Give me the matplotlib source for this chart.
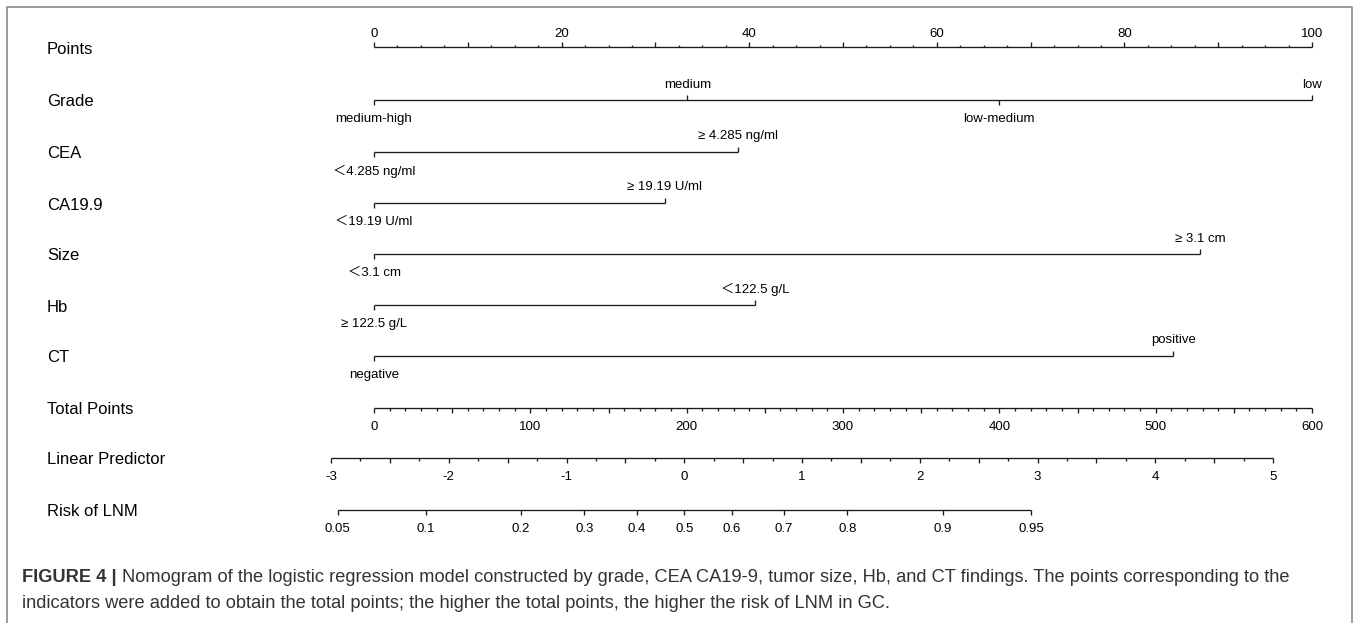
import numpy as np
import matplotlib
matplotlib.use('Agg')
import matplotlib.pyplot as plt

plt.rcParams['font.family'] = ['Liberation Sans', 'Noto Sans CJK SC', 'DejaVu Sans']

# ---------------- data ----------------
row_names = ['Points', 'Grade', 'CEA', 'CA19.9', 'Size', 'Hb', 'CT',
             'Total Points', 'Linear Predictor', 'Risk of LNM']

points_labels = [0, 20, 40, 60, 80, 100]
points_major = [0, 10, 20, 30, 40, 50, 60, 70, 80, 90, 100]
points_minor = [2.5, 5, 7.5, 12.5, 15, 17.5, 22.5, 25, 27.5, 32.5, 35, 37.5,
                42.5, 45, 47.5, 52.5, 55, 57.5, 62.5, 65, 67.5, 72.5, 75, 77.5,
                82.5, 85, 87.5, 92.5, 95, 97.5]

grade_levels = ['medium-high', 'medium', 'low-medium', 'low']
grade_points = [0, 33.4, 66.6, 100]
grade_sides = ['below', 'above', 'below', 'above']

cea_levels = ['＜4.285 ng/ml', '≥ 4.285 ng/ml']
cea_points = [0, 38.8]
ca199_levels = ['＜19.19 U/ml', '≥ 19.19 U/ml']
ca199_points = [0, 31.0]
size_levels = ['＜3.1 cm', '≥ 3.1 cm']
size_points = [0, 88.1]
hb_levels = ['≥ 122.5 g/L', '＜122.5 g/L']
hb_points = [0, 40.6]
ct_levels = ['negative', 'positive']
ct_points = [0, 85.2]

total_labels = [0, 100, 200, 300, 400, 500, 600]
total_major = [0, 50, 100, 150, 200, 250, 300, 350, 400, 450, 500, 550, 600]
total_minor = [v for v in range(0, 601, 10) if v % 50 != 0]
total_max = 600.0          # total points 600 == 100 points on the top scale

lp_labels = [-3, -2, -1, 0, 1, 2, 3, 4, 5]
lp_major = [-3, -2.5, -2, -1.5, -1, -0.5, 0, 0.5, 1, 1.5, 2, 2.5, 3, 3.5, 4, 4.5, 5]
lp_minor = [-2.75, -2.25, -1.75, -1.25, -0.75, -0.25, 0.25, 0.75, 1.25, 1.75,
            2.25, 2.75, 3.25, 3.75, 4.25, 4.75]
lp_at_total0 = -2.635      # linear predictor at total points = 0
lp_per_total = 0.013277    # linear predictor per total point

risk_labels = [0.05, 0.1, 0.2, 0.3, 0.4, 0.5, 0.6, 0.7, 0.8, 0.9, 0.95]
risk_texts = ['0.05', '0.1', '0.2', '0.3', '0.4', '0.5', '0.6', '0.7', '0.8', '0.9', '0.95']

caption_bold = 'FIGURE 4 | '
caption_line1 = ('Nomogram of the logistic regression model constructed by grade, CEA CA19-9, '
                 'tumor size, Hb, and CT findings. The points corresponding to the')
caption_line2 = ('indicators were added to obtain the total points; the higher the total points, '
                 'the higher the risk of LNM in GC.')

# ---------------- layout ----------------
W, H = 1357, 623
fig = plt.figure(figsize=(W / 100, H / 100), dpi=100)
fig.patch.set_facecolor('white')

# pixel-space overlay (frame, row names, caption)
axp = fig.add_axes([0, 0, 1, 1])
axp.set_xlim(0, W)
axp.set_ylim(H, 0)
axp.axis('off')

# nomogram axes: x in "Points" units
px0, px100 = 374.0, 1312.0
ppu = (px100 - px0) / 100.0
ax = fig.add_axes([0, 0, 1, 1])
ax.set_xlim(-px0 / ppu, (W - px0) / ppu)
ax.set_ylim(H, 0)
ax.axis('off')
ax.patch.set_alpha(0)

row_y = [47, 100, 152, 203, 254, 305, 356, 408, 458, 510]

LC = '#1a1a1a'
LW = 0.95
MAJ = 5.0
MIN = 2.5
TICK_FS = 9.5
NAME_FS = 12

def total_to_pts(t):
    return np.asarray(t, dtype=float) / total_max * 100.0

def lp_to_pts(lp):
    return total_to_pts((np.asarray(lp, dtype=float) - lp_at_total0) / lp_per_total)

def risk_to_pts(p):
    p = np.asarray(p, dtype=float)
    return lp_to_pts(np.log(p / (1 - p)))

def tick(x, y, length, side):
    d = -length if side == 'above' else length
    ax.plot([x, x], [y, y + d], color=LC, lw=LW, solid_capstyle='butt')

def label(x, y, text, side, up_off=7):
    if side == 'above':
        ax.text(x, y - up_off, text, ha='center', va='bottom', fontsize=TICK_FS, color='black')
    else:
        ax.text(x, y + 13, text, ha='center', va='top', fontsize=TICK_FS, color='black')

def scale_axis(y, major, minor, lab_vals, lab_texts, side):
    major = np.asarray(major, float)
    ax.plot([major.min(), major.max()], [y, y], color=LC, lw=LW, solid_capstyle='butt')
    for x in major:
        tick(x, y, MAJ, side)
    for x in minor:
        tick(x, y, MIN, side)
    for x, t in zip(lab_vals, lab_texts):
        label(x, y, t, side, up_off=7)

def factor_axis(y, pts, texts, sides):
    ax.plot([min(pts), max(pts)], [y, y], color=LC, lw=LW, solid_capstyle='butt')
    for x, t, s in zip(pts, texts, sides):
        tick(x, y, MAJ, s)
        label(x, y, t, s, up_off=9.5)

# Points
scale_axis(row_y[0], points_major, points_minor, points_labels,
           [str(v) for v in points_labels], 'above')
# factors
factor_axis(row_y[1], grade_points, grade_levels, grade_sides)
factor_axis(row_y[2], cea_points, cea_levels, ['below', 'above'])
factor_axis(row_y[3], ca199_points, ca199_levels, ['below', 'above'])
factor_axis(row_y[4], size_points, size_levels, ['below', 'above'])
factor_axis(row_y[5], hb_points, hb_levels, ['below', 'above'])
factor_axis(row_y[6], ct_points, ct_levels, ['below', 'above'])
# Total points
scale_axis(row_y[7], total_to_pts(total_major), total_to_pts(total_minor),
           total_to_pts(total_labels), [str(v) for v in total_labels], 'below')
# Linear predictor
scale_axis(row_y[8], lp_to_pts(lp_major), lp_to_pts(lp_minor),
           lp_to_pts(lp_labels), [str(v) for v in lp_labels], 'below')
# Risk
scale_axis(row_y[9], risk_to_pts(risk_labels), [], risk_to_pts(risk_labels),
           risk_texts, 'below')

# row names
for name, y in zip(row_names, row_y):
    axp.text(47, y + 2, name, ha='left', va='center', fontsize=NAME_FS, color='black')

# frame (left, top, right)
axp.plot([7, 7, 1352, 1352], [H + 5, 7, 7, H + 5], color='#8a8a8a', lw=1.2,
         clip_on=False)

# caption
CAP_FS = 13.15
CAP_C = '#333333'
t1 = axp.text(22, 582, caption_bold, ha='left', va='baseline', fontsize=CAP_FS,
              fontweight='bold', color=CAP_C)
fig.canvas.draw()
bb = t1.get_window_extent(fig.canvas.get_renderer())
x_after = axp.transData.inverted().transform((bb.x1, 0))[0]
axp.text(x_after, 582, caption_line1, ha='left', va='baseline', fontsize=CAP_FS, color=CAP_C)
axp.text(22, 608, caption_line2, ha='left', va='baseline', fontsize=CAP_FS, color=CAP_C)

fig.savefig('out.png', dpi=100, facecolor='white')
